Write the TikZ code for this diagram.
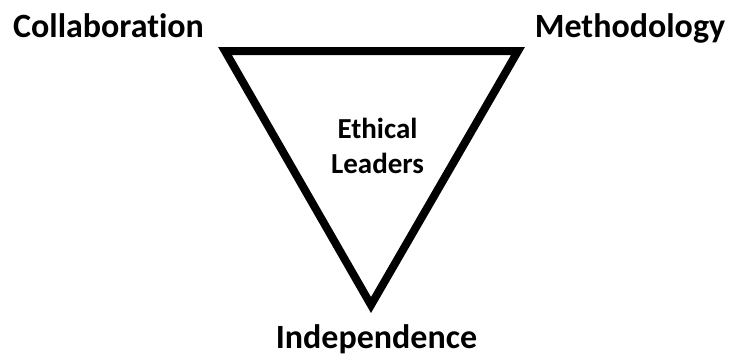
\documentclass[tikz,border=0pt]{standalone}
\usepackage{fontspec}
\setmainfont{Carlito}[Ligatures=NoCommon]
\usepackage{xcolor}
\usepackage{tikz}
\definecolor{bg}{HTML}{FFFFFF}
\definecolor{ink}{HTML}{000000}
\tikzset{
  tri/.style={draw=ink, line width=8pt, line join=miter},
  lab/.style={text=ink, font=\fontsize{34}{40}\selectfont\bfseries, inner sep=0pt, anchor=base},
  labc/.style={text=ink, font=\fontsize{29}{35}\selectfont\bfseries, inner sep=0pt, align=center},
}
\begin{document}
\begin{tikzpicture}[x=1pt,y=-1pt]
  \fill[bg] (0,0) rectangle (731,356);
  \useasboundingbox (0,0) rectangle (731,356);
  \coordinate (TL) at (225,51);
  \coordinate (TR) at (518,51);
  \coordinate (B) at (371,305);
  \draw[tri] (TL)--(TR)--(B)--cycle;
  \node[lab] (collab) at (108.5,37) {Collaboration};
  \node[lab] (method) at (630,37) {Methodology};
  \node[lab] (indep) at (376.5,348) {Independence};
  \node[labc] (ethic) at (377.5,146) {Ethical\\Leaders};
\end{tikzpicture}
\end{document}
